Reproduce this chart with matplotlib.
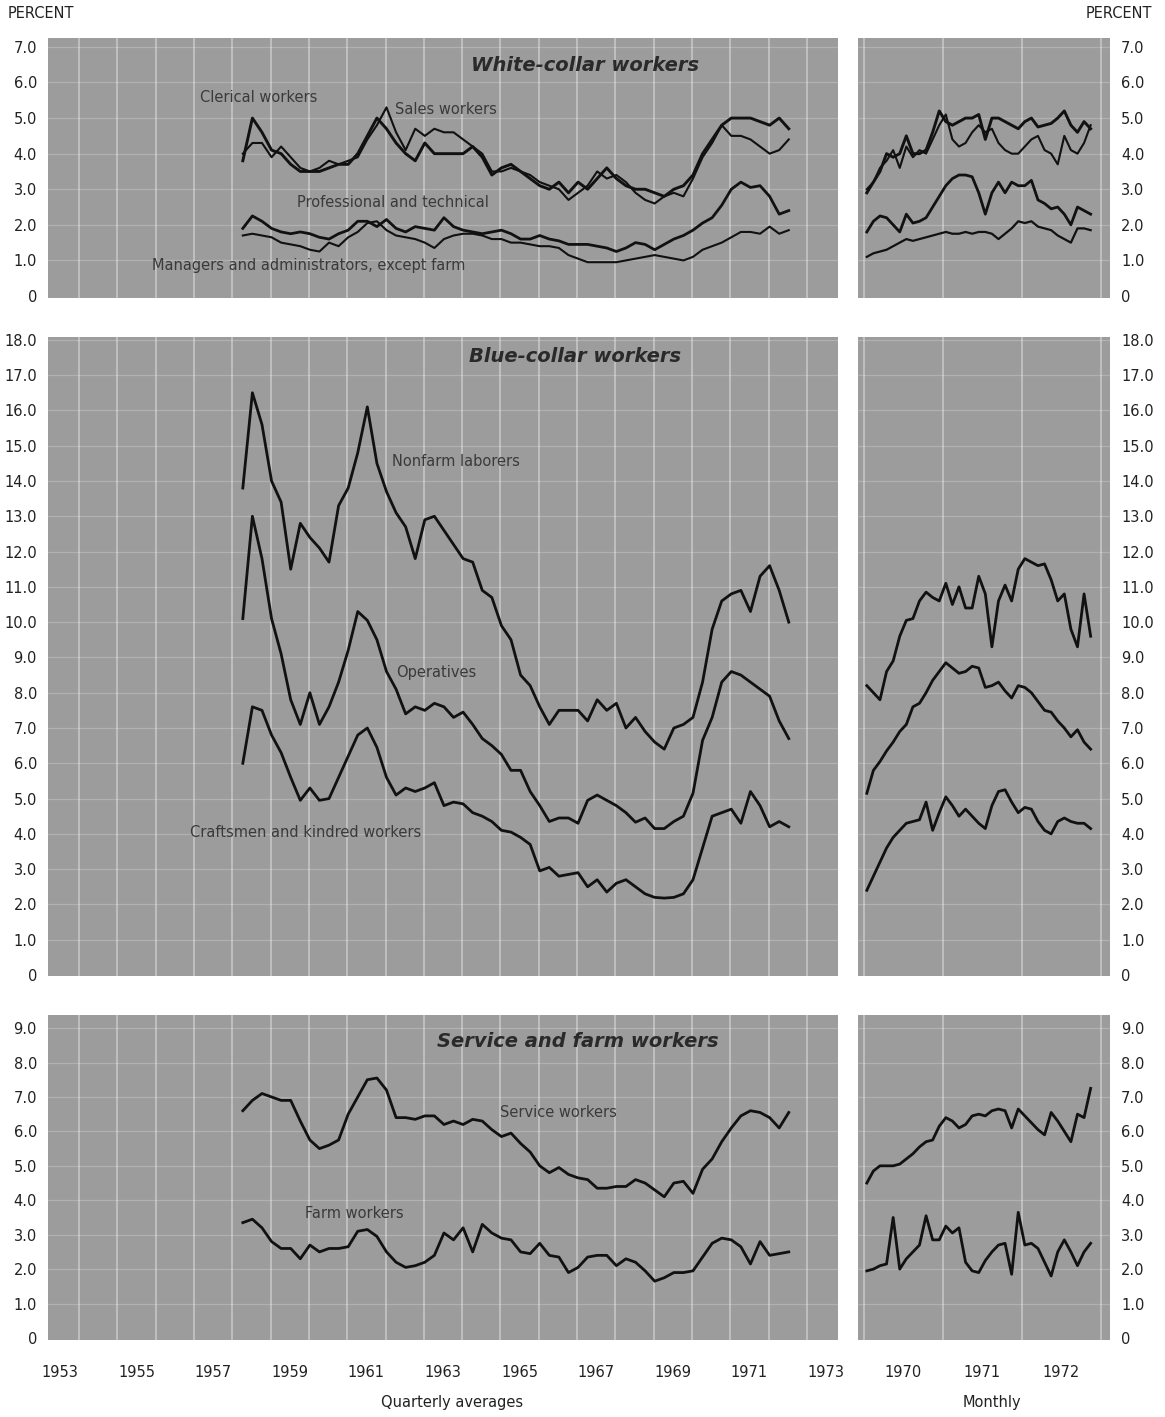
import numpy as np
import matplotlib
matplotlib.use("Agg")
import matplotlib.pyplot as plt

# ---------------- data ----------------
# quarterly averages, 1958 Q1 .. 1972 Q2 (58 quarters)
quarter_year0 = 1958
n_quarters = 58
# monthly, July 1969 .. May 1972 (35 months)
month_year0 = 1969.5
n_months = 35

clerical_q = [3.8, 5.0, 4.6, 4.1, 4.0, 3.7, 3.5, 3.5, 3.5, 3.6, 3.7, 3.7, 4.0, 4.5, 5.0, 4.7,
              4.3, 4.0, 3.8, 4.3, 4.0, 4.0, 4.0, 4.0, 4.2, 3.9, 3.4, 3.6, 3.7, 3.5, 3.3, 3.1,
              3.0, 3.2, 2.9, 3.2, 3.0, 3.3, 3.6, 3.3, 3.1, 3.0, 3.0, 2.9, 2.8, 3.0, 3.1, 3.4,
              4.0, 4.4, 4.8, 5.0, 5.0, 5.0, 4.9, 4.8, 5.0, 4.7]
sales_q = [4.0, 4.3, 4.3, 3.9, 4.2, 3.9, 3.6, 3.5, 3.6, 3.8, 3.7, 3.8, 3.9, 4.4, 4.8, 5.3,
           4.6, 4.1, 4.7, 4.5, 4.7, 4.6, 4.6, 4.4, 4.2, 4.0, 3.5, 3.5, 3.6, 3.5, 3.4, 3.2,
           3.1, 3.0, 2.7, 2.9, 3.1, 3.5, 3.3, 3.4, 3.2, 2.9, 2.7, 2.6, 2.8, 2.9, 2.8, 3.3,
           3.9, 4.3, 4.8, 4.5, 4.5, 4.4, 4.2, 4.0, 4.1, 4.4]
professional_q = [1.9, 2.25, 2.1, 1.9, 1.8, 1.75, 1.8, 1.75, 1.65, 1.6, 1.75, 1.85, 2.1, 2.1, 1.95, 2.15,
                  1.9, 1.8, 1.95, 1.9, 1.85, 2.2, 1.95, 1.85, 1.8, 1.75, 1.8, 1.85, 1.75, 1.6, 1.6, 1.7,
                  1.6, 1.55, 1.45, 1.45, 1.45, 1.4, 1.35, 1.25, 1.35, 1.5, 1.45, 1.3, 1.45, 1.6, 1.7, 1.85,
                  2.05, 2.2, 2.55, 3.0, 3.2, 3.05, 3.1, 2.8, 2.3, 2.4]
managers_q = [1.7, 1.75, 1.7, 1.65, 1.5, 1.45, 1.4, 1.3, 1.25, 1.5, 1.4, 1.65, 1.8, 2.05, 2.1, 1.85,
              1.7, 1.65, 1.6, 1.5, 1.35, 1.6, 1.7, 1.75, 1.75, 1.7, 1.6, 1.6, 1.5, 1.5, 1.45, 1.4,
              1.4, 1.35, 1.15, 1.05, 0.95, 0.95, 0.95, 0.95, 1.0, 1.05, 1.1, 1.15, 1.1, 1.05, 1.0, 1.1,
              1.3, 1.4, 1.5, 1.65, 1.8, 1.8, 1.75, 1.95, 1.75, 1.85]

laborers_q = [13.8, 16.5, 15.6, 14.0, 13.4, 11.5, 12.8, 12.4, 12.1, 11.7, 13.3, 13.8, 14.8, 16.1, 14.5, 13.7,
              13.1, 12.7, 11.8, 12.9, 13.0, 12.6, 12.2, 11.8, 11.7, 10.9, 10.7, 9.9, 9.5, 8.5, 8.2, 7.6,
              7.1, 7.5, 7.5, 7.5, 7.2, 7.8, 7.5, 7.7, 7.0, 7.3, 6.9, 6.6, 6.4, 7.0, 7.1, 7.3,
              8.3, 9.8, 10.6, 10.8, 10.9, 10.3, 11.3, 11.6, 10.9, 10.0]
operatives_q = [10.1, 13.0, 11.8, 10.1, 9.1, 7.8, 7.1, 8.0, 7.1, 7.6, 8.3, 9.2, 10.3, 10.05, 9.5, 8.6,
                8.1, 7.4, 7.6, 7.5, 7.7, 7.6, 7.3, 7.45, 7.1, 6.7, 6.5, 6.25, 5.8, 5.8, 5.2, 4.8,
                4.35, 4.45, 4.45, 4.3, 4.95, 5.1, 4.95, 4.8, 4.6, 4.33, 4.45, 4.15, 4.15, 4.35, 4.5, 5.15,
                6.65, 7.3, 8.3, 8.6, 8.5, 8.3, 8.1, 7.9, 7.2, 6.7]
craftsmen_q = [6.0, 7.6, 7.5, 6.8, 6.3, 5.6, 4.95, 5.3, 4.95, 5.0, 5.6, 6.2, 6.8, 7.0, 6.45, 5.6,
               5.1, 5.3, 5.2, 5.3, 5.45, 4.8, 4.9, 4.85, 4.6, 4.5, 4.35, 4.1, 4.05, 3.9, 3.7, 2.95,
               3.05, 2.8, 2.85, 2.9, 2.5, 2.7, 2.35, 2.6, 2.7, 2.5, 2.3, 2.2, 2.18, 2.2, 2.3, 2.7,
               3.6, 4.5, 4.6, 4.7, 4.3, 5.2, 4.8, 4.2, 4.35, 4.2]

service_q = [6.6, 6.9, 7.1, 7.0, 6.9, 6.9, 6.3, 5.75, 5.5, 5.6, 5.75, 6.5, 7.0, 7.5, 7.55, 7.2,
             6.4, 6.4, 6.35, 6.45, 6.45, 6.2, 6.3, 6.2, 6.35, 6.3, 6.05, 5.85, 5.95, 5.65, 5.4, 5.0,
             4.8, 4.95, 4.75, 4.65, 4.6, 4.35, 4.35, 4.4, 4.4, 4.6, 4.5, 4.3, 4.1, 4.5, 4.55, 4.2,
             4.9, 5.2, 5.7, 6.1, 6.45, 6.6, 6.55, 6.4, 6.1, 6.55]
farm_q = [3.35, 3.45, 3.2, 2.8, 2.6, 2.6, 2.3, 2.7, 2.5, 2.6, 2.6, 2.65, 3.1, 3.15, 2.95, 2.5,
          2.2, 2.05, 2.1, 2.2, 2.4, 3.05, 2.85, 3.2, 2.5, 3.3, 3.05, 2.9, 2.85, 2.5, 2.45, 2.75,
          2.4, 2.35, 1.9, 2.05, 2.35, 2.4, 2.4, 2.1, 2.3, 2.2, 1.95, 1.65, 1.75, 1.9, 1.9, 1.95,
          2.35, 2.75, 2.9, 2.85, 2.65, 2.15, 2.8, 2.4, 2.45, 2.5]

clerical_m = [2.9, 3.2, 3.5, 4.0, 3.9, 4.0, 4.5, 4.0, 4.0, 4.1, 4.6, 5.2, 4.9, 4.8, 4.9, 5.0,
              5.0, 5.1, 4.4, 5.0, 5.0, 4.9, 4.8, 4.7, 4.9, 5.0, 4.75, 4.8, 4.85, 5.0, 5.2, 4.8,
              4.6, 4.9, 4.7]
sales_m = [3.0, 3.2, 3.6, 3.8, 4.1, 3.6, 4.2, 3.9, 4.1, 4.0, 4.4, 4.8, 5.1, 4.4, 4.2, 4.3,
           4.6, 4.8, 4.6, 4.7, 4.3, 4.1, 4.0, 4.0, 4.2, 4.4, 4.5, 4.1, 4.0, 3.7, 4.5, 4.1,
           4.0, 4.3, 4.8]
professional_m = [1.8, 2.1, 2.25, 2.2, 2.0, 1.8, 2.3, 2.05, 2.1, 2.2, 2.5, 2.8, 3.1, 3.3, 3.4, 3.4,
                  3.35, 2.9, 2.3, 2.9, 3.2, 2.9, 3.2, 3.1, 3.1, 3.25, 2.7, 2.6, 2.45, 2.5, 2.3, 2.0,
                  2.5, 2.4, 2.3]
managers_m = [1.1, 1.2, 1.25, 1.3, 1.4, 1.5, 1.6, 1.55, 1.6, 1.65, 1.7, 1.75, 1.8, 1.75, 1.75, 1.8,
              1.75, 1.8, 1.8, 1.75, 1.6, 1.75, 1.9, 2.1, 2.05, 2.1, 1.95, 1.9, 1.85, 1.7, 1.6, 1.5,
              1.9, 1.9, 1.85]

laborers_m = [8.2, 8.0, 7.8, 8.6, 8.9, 9.6, 10.05, 10.1, 10.6, 10.85, 10.7, 10.6, 11.1, 10.5, 11.0, 10.4,
              10.4, 11.3, 10.8, 9.3, 10.6, 11.05, 10.6, 11.5, 11.8, 11.7, 11.6, 11.65, 11.2, 10.6, 10.8, 9.8,
              9.3, 10.8, 9.6]
operatives_m = [5.15, 5.8, 6.05, 6.35, 6.6, 6.9, 7.1, 7.6, 7.7, 8.0, 8.35, 8.6, 8.85, 8.7, 8.55, 8.6,
                8.75, 8.7, 8.15, 8.2, 8.3, 8.05, 7.85, 8.2, 8.15, 8.0, 7.75, 7.5, 7.45, 7.2, 7.0, 6.75,
                6.95, 6.6, 6.4]
craftsmen_m = [2.4, 2.8, 3.2, 3.6, 3.9, 4.1, 4.3, 4.35, 4.4, 4.9, 4.1, 4.6, 5.05, 4.8, 4.5, 4.7,
               4.5, 4.3, 4.15, 4.8, 5.2, 5.25, 4.9, 4.6, 4.75, 4.7, 4.35, 4.1, 4.0, 4.35, 4.45, 4.35,
               4.3, 4.3, 4.15]

service_m = [4.5, 4.85, 5.0, 5.0, 5.0, 5.05, 5.2, 5.35, 5.55, 5.7, 5.75, 6.15, 6.4, 6.3, 6.1, 6.2,
             6.45, 6.5, 6.45, 6.6, 6.65, 6.6, 6.1, 6.65, 6.45, 6.25, 6.05, 5.9, 6.55, 6.3, 6.0, 5.7,
             6.5, 6.4, 7.25]
farm_m = [1.95, 2.0, 2.1, 2.15, 3.5, 2.0, 2.3, 2.5, 2.7, 3.55, 2.85, 2.85, 3.25, 3.05, 3.2, 2.2,
          1.95, 1.9, 2.25, 2.5, 2.7, 2.75, 1.85, 3.65, 2.7, 2.75, 2.6, 2.2, 1.8, 2.5, 2.85, 2.5,
          2.1, 2.5, 2.75]

quarter_years = list(range(1953, 1974, 2))
month_years = [1970, 1971, 1972]
panel_titles = ["White-collar workers", "Blue-collar workers", "Service and farm workers"]
panel_ticks = [[0, 1, 2, 3, 4, 5, 6, 7], list(range(0, 19)), list(range(0, 10))]

# ---------------- layout ----------------
W, H = 1165, 1417
fig = plt.figure(figsize=(W / 100, H / 100), dpi=100)
fig.patch.set_facecolor("white")

BG = "#9c9c9c"
LINE = "#111111"
TXT = "#222222"
LBL = "#3a3a3a"

rows = [(38, 298), (337, 976), (1015, 1340)]
cols = [(48, 838), (858, 1110)]
ylims = [(-0.056, 7.25), (-0.028, 18.08), (-0.058, 9.38)]
xlims = [(1953.04, 1973.66), (1969.43, 1972.62)]

qx = quarter_year0 + (np.arange(n_quarters) + 0.5) / 4.0
mx = month_year0 + (np.arange(n_months) + 0.5) / 12.0
tick_shift_q = 0.35  # year labels sit slightly right of Jan 1 on the quarterly scale


def make_ax(r, c):
    t, b = rows[r]
    l, rr = cols[c]
    ax = fig.add_axes([l / W, 1 - b / H, (rr - l) / W, (b - t) / H])
    ax.set_facecolor(BG)
    for s in ax.spines.values():
        s.set_visible(False)
    ax.set_xlim(*xlims[c])
    ax.set_ylim(*ylims[r])
    ticks = panel_ticks[r]
    ax.set_yticks(ticks)
    ax.set_yticklabels(["0" if v == 0 else f"{v:.1f}" for v in ticks])
    if c == 0:
        ax.tick_params(axis="y", left=False, right=False, labelleft=True, labelright=False,
                       length=0, pad=8, labelsize=10.5, labelcolor=TXT)
        grid_x = [y + tick_shift_q + 0.5 for y in range(1953, 1973)]
    else:
        ax.tick_params(axis="y", left=False, right=False, labelleft=False, labelright=True,
                       length=0, pad=8, labelsize=10.5, labelcolor=TXT)
        grid_x = [1969.5, 1970.5, 1971.5, 1972.5]
    for gx in grid_x:
        ax.axvline(gx, color="white", lw=1.1, alpha=0.45, zorder=1)
    for gy in ticks:
        if gy > 0:
            ax.axhline(gy, color="white", lw=0.9, alpha=0.22, zorder=1)
    if r == 2:
        if c == 0:
            ax.set_xticks([y + tick_shift_q for y in quarter_years])
            ax.set_xticklabels([str(y) for y in quarter_years])
        else:
            ax.set_xticks(month_years)
            ax.set_xticklabels([str(y) for y in month_years])
        ax.tick_params(axis="x", length=0, pad=18, labelsize=10.5, labelcolor=TXT)
    else:
        ax.set_xticks([])
    return ax


axes = [[make_ax(r, c) for c in range(2)] for r in range(3)]

# White-collar
a, b = axes[0]
a.plot(qx, sales_q, color=LINE, lw=1.5, zorder=3)
a.plot(qx, clerical_q, color=LINE, lw=2.1, zorder=3)
a.plot(qx, managers_q, color=LINE, lw=1.5, zorder=3)
a.plot(qx, professional_q, color=LINE, lw=2.0, zorder=3)
b.plot(mx, sales_m, color=LINE, lw=1.5, zorder=3)
b.plot(mx, clerical_m, color=LINE, lw=2.1, zorder=3)
b.plot(mx, managers_m, color=LINE, lw=1.6, zorder=3)
b.plot(mx, professional_m, color=LINE, lw=2.0, zorder=3)

# Blue-collar
a, b = axes[1]
for s_q, s_m in [(laborers_q, laborers_m), (operatives_q, operatives_m), (craftsmen_q, craftsmen_m)]:
    a.plot(qx, s_q, color=LINE, lw=2.0, zorder=3)
    b.plot(mx, s_m, color=LINE, lw=2.0, zorder=3)

# Service and farm
a, b = axes[2]
for s_q, s_m in [(service_q, service_m), (farm_q, farm_m)]:
    a.plot(qx, s_q, color=LINE, lw=2.0, zorder=3)
    b.plot(mx, s_m, color=LINE, lw=2.0, zorder=3)

# titles inside panels
title_pos = [(1967.06, 6.49), (1966.80, 17.52), (1966.87, 8.62)]
for r in range(3):
    x, y = title_pos[r]
    axes[r][0].text(x, y, panel_titles[r], ha="center", va="center", fontsize=14,
                    fontweight="bold", fontstyle="italic", color="#2a2a2a", zorder=4)

# series labels
series_labels = [
    (0, 1957.01, 5.59, "Clerical workers"),
    (0, 1962.10, 5.23, "Sales workers"),
    (0, 1959.54, 2.64, "Professional and technical"),
    (0, 1955.75, 0.87, "Managers and administrators, except farm"),
    (1, 1962.02, 14.54, "Nonfarm laborers"),
    (1, 1962.12, 8.56, "Operatives"),
    (1, 1956.74, 4.05, "Craftsmen and kindred workers"),
    (2, 1964.84, 6.56, "Service workers"),
    (2, 1959.75, 3.63, "Farm workers"),
]
for r, x, y, s in series_labels:
    axes[r][0].text(x, y, s, ha="left", va="center", fontsize=10.5, color=LBL, zorder=4)

# outer labels
fig.text(8 / W, 1 - 14 / H, "PERCENT", ha="left", va="center", fontsize=10.5, color=TXT)
fig.text(1152 / W, 1 - 14 / H, "PERCENT", ha="right", va="center", fontsize=10.5, color=TXT)
fig.text(452 / W, 1 - 1403 / H, "Quarterly averages", ha="center", va="center", fontsize=10.5, color=TXT)
fig.text(992 / W, 1 - 1403 / H, "Monthly", ha="center", va="center", fontsize=10.5, color=TXT)

fig.savefig("out.png", dpi=100, facecolor="white")
